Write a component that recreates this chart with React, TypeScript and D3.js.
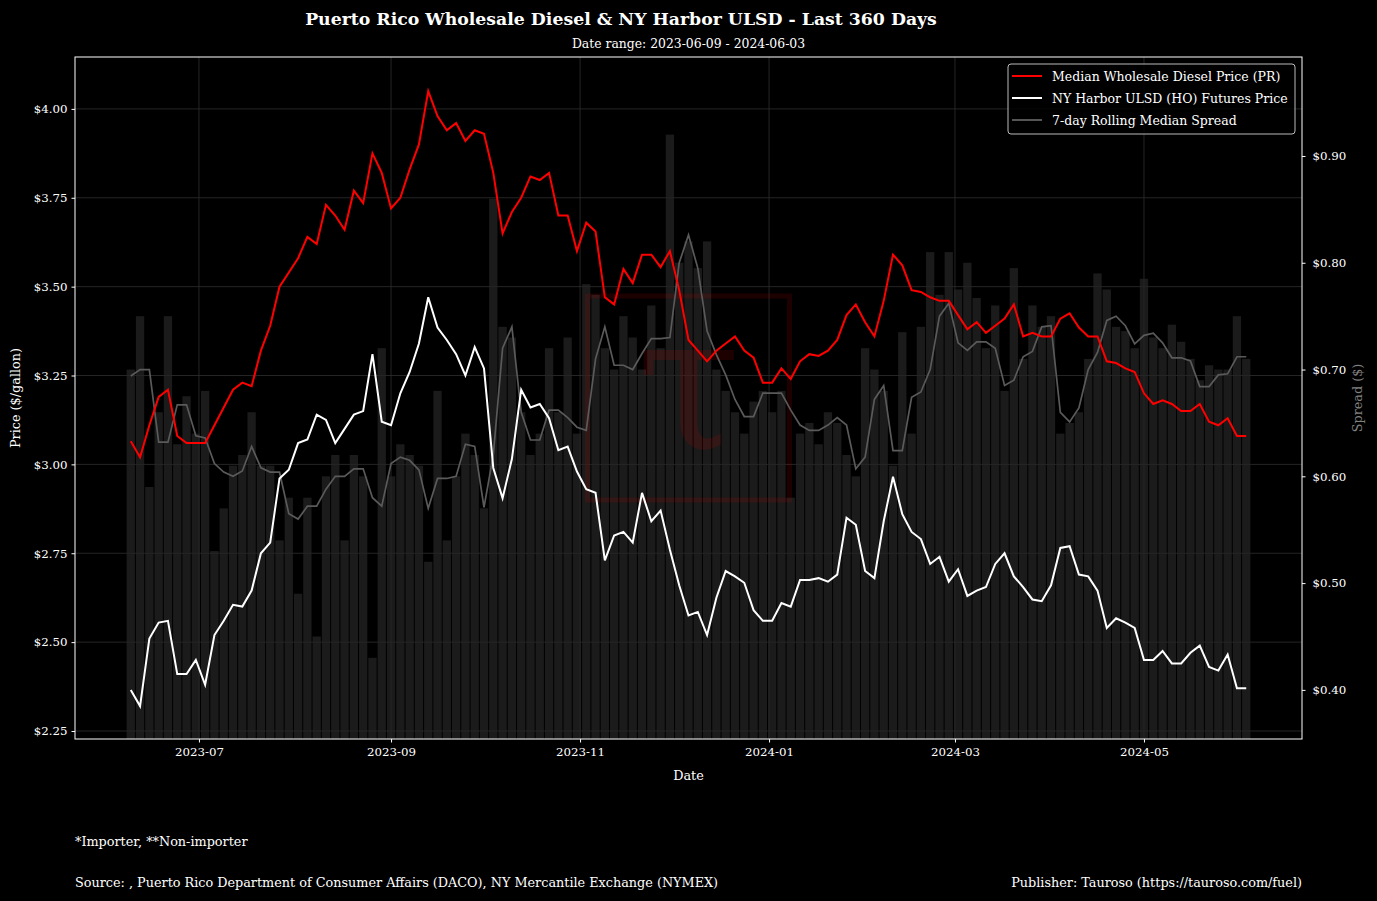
import React, { useEffect, useRef } from 'react';
import * as d3 from 'd3';

// values every 3 days, 2023-06-09 .. 2024-06-03
const startDate = '2023-06-09';
const stepDays = 3;

const prMedian = [
  3.065, 3.02, 3.11, 3.19, 3.21, 3.08, 3.06, 3.06, 3.06, 3.11,
  3.16, 3.21, 3.23, 3.22, 3.32, 3.39, 3.50, 3.54, 3.58, 3.64,
  3.62, 3.73, 3.70, 3.66, 3.77, 3.735, 3.875, 3.82, 3.72, 3.75,
  3.83, 3.90, 4.05, 3.98, 3.94, 3.96, 3.91, 3.94, 3.93, 3.82,
  3.65, 3.71, 3.75, 3.81, 3.80, 3.82, 3.70, 3.70, 3.60, 3.68,
  3.655, 3.47, 3.45, 3.55, 3.51, 3.59, 3.59, 3.555, 3.60, 3.49,
  3.35, 3.32, 3.29, 3.32, 3.34, 3.36, 3.32, 3.30, 3.23, 3.23,
  3.27, 3.24, 3.29, 3.31, 3.305, 3.32, 3.35, 3.42, 3.45, 3.40,
  3.36, 3.46, 3.59, 3.56, 3.49, 3.485, 3.47, 3.46, 3.46, 3.42,
  3.38, 3.40, 3.37, 3.39, 3.41, 3.45, 3.36, 3.37, 3.36, 3.36,
  3.41, 3.425, 3.385, 3.36, 3.36, 3.29, 3.285, 3.27, 3.26, 3.20,
  3.17, 3.18, 3.17, 3.15, 3.15, 3.17, 3.12, 3.11, 3.13, 3.08,
  3.08,
];

const hoFutures = [
  2.365, 2.32, 2.51, 2.555, 2.56, 2.41, 2.41, 2.45, 2.38, 2.52,
  2.56, 2.605, 2.60, 2.645, 2.75, 2.78, 2.96, 2.985, 3.06, 3.07,
  3.14, 3.125, 3.06, 3.10, 3.14, 3.15, 3.31, 3.12, 3.11, 3.20,
  3.26, 3.34, 3.47, 3.385, 3.35, 3.31, 3.25, 3.33, 3.27, 2.99,
  2.905, 3.015, 3.21, 3.16, 3.17, 3.13, 3.04, 3.05, 2.98, 2.93,
  2.92, 2.73, 2.80, 2.81, 2.78, 2.92, 2.84, 2.87, 2.76, 2.66,
  2.575, 2.585, 2.52, 2.625, 2.70, 2.685, 2.667, 2.59, 2.56, 2.56,
  2.61, 2.60, 2.675, 2.675, 2.68, 2.67, 2.69, 2.85, 2.83, 2.70,
  2.68, 2.84, 2.965, 2.86, 2.81, 2.79, 2.72, 2.74, 2.67, 2.705,
  2.63, 2.645, 2.655, 2.72, 2.75, 2.685, 2.655, 2.62, 2.615, 2.66,
  2.765, 2.77, 2.69, 2.685, 2.645, 2.54, 2.567, 2.555, 2.54, 2.45,
  2.45, 2.475, 2.44, 2.44, 2.47, 2.49, 2.43, 2.42, 2.465, 2.37,
  2.37,
];

const spreadDaily = [
  0.70, 0.75, 0.59, 0.66, 0.75, 0.63, 0.675, 0.64, 0.68, 0.53,
  0.57, 0.61, 0.62, 0.66, 0.61, 0.61, 0.54, 0.58, 0.49, 0.58,
  0.45, 0.60, 0.62, 0.54, 0.62, 0.60, 0.43, 0.72, 0.60, 0.63,
  0.62, 0.61, 0.52, 0.68, 0.54, 0.60, 0.64, 0.62, 0.57, 0.86,
  0.74, 0.73, 0.66, 0.62, 0.64, 0.72, 0.66, 0.73, 0.64, 0.78,
  0.77, 0.72, 0.70, 0.75, 0.73, 0.70, 0.76, 0.72, 0.92, 0.80,
  0.82, 0.795, 0.82, 0.70, 0.68, 0.66, 0.64, 0.67, 0.68, 0.66,
  0.68, 0.58, 0.64, 0.65, 0.63, 0.66, 0.65, 0.62, 0.60, 0.72,
  0.70, 0.68, 0.61, 0.735, 0.64, 0.74, 0.81, 0.77, 0.81, 0.775,
  0.80, 0.767, 0.72, 0.76, 0.68, 0.795, 0.71, 0.76, 0.74, 0.75,
  0.64, 0.65, 0.66, 0.71, 0.79, 0.775, 0.74, 0.736, 0.72, 0.785,
  0.73, 0.72, 0.742, 0.726, 0.71, 0.69, 0.704, 0.70, 0.70, 0.75,
  0.71,
];

const spreadRolling = [
  0.694, 0.70, 0.70, 0.632, 0.632, 0.667, 0.667, 0.638, 0.636, 0.612,
  0.604, 0.60, 0.605, 0.628, 0.608, 0.604, 0.604, 0.565, 0.56, 0.572,
  0.572, 0.588, 0.60, 0.60, 0.607, 0.607, 0.58, 0.572, 0.612, 0.618,
  0.615, 0.606, 0.57, 0.598, 0.598, 0.60, 0.63, 0.628, 0.571, 0.62,
  0.72, 0.74, 0.66, 0.634, 0.634, 0.662, 0.662, 0.655, 0.646, 0.643,
  0.71, 0.74, 0.704, 0.704, 0.70, 0.715, 0.729, 0.729, 0.73, 0.80,
  0.826, 0.795, 0.736, 0.714, 0.695, 0.672, 0.656, 0.656, 0.678, 0.678,
  0.678, 0.662, 0.648, 0.643, 0.643, 0.648, 0.655, 0.648, 0.607, 0.618,
  0.672, 0.685, 0.624, 0.624, 0.674, 0.679, 0.70, 0.75, 0.762, 0.725,
  0.718, 0.726, 0.726, 0.72, 0.685, 0.69, 0.712, 0.717, 0.74, 0.741,
  0.66, 0.651, 0.664, 0.70, 0.716, 0.746, 0.75, 0.741, 0.724, 0.732,
  0.734, 0.725, 0.711, 0.711, 0.708, 0.684, 0.684, 0.695, 0.696, 0.712,
  0.712,
];

const priceTicks = [2.25, 2.5, 2.75, 3.0, 3.25, 3.5, 3.75, 4.0];
const spreadTicks = [0.4, 0.5, 0.6, 0.7, 0.8, 0.9];
const monthTicks = ['2023-07', '2023-09', '2023-11', '2024-01', '2024-03', '2024-05'];

const legendItems = [
  { label: 'Median Wholesale Diesel Price (PR)', color: '#ff0000' },
  { label: 'NY Harbor ULSD (HO) Futures Price', color: '#ffffff' },
  { label: '7-day Rolling Median Spread', color: '#555555' },
];

const FONT = '"DejaVu Serif", "Liberation Serif", serif';

export default function App() {
  const ref = useRef<SVGSVGElement>(null);

  useEffect(() => {
    document.body.style.margin = '0';
    document.body.style.background = '#000';

    const W = 1377;
    const H = 901;
    const m = { left: 75, right: 1302, top: 57, bottom: 739 };
    const parse = d3.timeParse('%Y-%m-%d');
    const t0 = parse(startDate) as Date;
    const dates = prMedian.map((_, i) => d3.timeDay.offset(t0, i * stepDays));

    const x = d3.scaleTime()
      .domain([parse('2023-05-22') as Date, parse('2024-06-21') as Date])
      .range([m.left, m.right]);
    const yPrice = d3.scaleLinear().domain([2.2275, 4.146]).range([m.bottom, m.top]);
    const ySpread = d3.scaleLinear().domain([0.354, 0.9927]).range([m.bottom, m.top]);

    const svg = d3.select(ref.current);
    svg.selectAll('*').remove();
    svg.attr('width', W).attr('height', H).style('font-family', FONT);

    svg.append('rect').attr('width', W).attr('height', H).attr('fill', '#000');

    svg.append('defs').append('clipPath').attr('id', 'plot-clip')
      .append('rect')
      .attr('x', m.left).attr('y', m.top)
      .attr('width', m.right - m.left).attr('height', m.bottom - m.top);

    // grid
    const grid = svg.append('g').attr('stroke', '#2e2e2e').attr('stroke-width', 0.8);
    priceTicks.forEach(t => {
      grid.append('line')
        .attr('x1', m.left).attr('x2', m.right)
        .attr('y1', yPrice(t)).attr('y2', yPrice(t));
    });
    monthTicks.forEach(t => {
      const xx = x(parse(t + '-01') as Date);
      grid.append('line').attr('x1', xx).attr('x2', xx).attr('y1', m.top).attr('y2', m.bottom);
    });

    const plot = svg.append('g').attr('clip-path', 'url(#plot-clip)');

    // daily spread bars
    const barW = x(d3.timeDay.offset(t0, stepDays)) - x(t0) - 1;
    plot.append('g').selectAll('rect')
      .data(spreadDaily)
      .join('rect')
      .attr('x', (_, i) => x(dates[i]) - barW / 2)
      .attr('width', barW)
      .attr('y', d => ySpread(d))
      .attr('height', d => ySpread(0) - ySpread(d))
      .attr('fill', '#262626')
      .attr('opacity', 0.72);

    // watermark
    const cx = (m.left + m.right) / 2;
    const cy = (m.top + m.bottom) / 2;
    const wm = plot.append('g').attr('opacity', 0.14);
    wm.append('rect')
      .attr('x', cx - 101).attr('y', cy - 102)
      .attr('width', 202).attr('height', 204)
      .attr('fill', 'none').attr('stroke', '#cc0000').attr('stroke-width', 5);
    wm.append('text')
      .attr('x', cx).attr('y', cy + 50)
      .attr('text-anchor', 'middle')
      .attr('font-size', 190)
      .attr('fill', '#cc0000')
      .text('τ');

    // rolling median spread
    plot.append('path')
      .datum(spreadRolling)
      .attr('fill', 'none')
      .attr('stroke', '#5a5a5a')
      .attr('stroke-width', 1.7)
      .attr('d', d3.line<number>().x((_, i) => x(dates[i])).y(d => ySpread(d)));

    // HO futures
    plot.append('path')
      .datum(hoFutures)
      .attr('fill', 'none')
      .attr('stroke', '#ffffff')
      .attr('stroke-width', 2)
      .attr('d', d3.line<number>().x((_, i) => x(dates[i])).y(d => yPrice(d)));

    // PR median
    plot.append('path')
      .datum(prMedian)
      .attr('fill', 'none')
      .attr('stroke', '#ff0000')
      .attr('stroke-width', 2)
      .attr('d', d3.line<number>().x((_, i) => x(dates[i])).y(d => yPrice(d)));

    // spines
    svg.append('rect')
      .attr('x', m.left).attr('y', m.top)
      .attr('width', m.right - m.left).attr('height', m.bottom - m.top)
      .attr('fill', 'none').attr('stroke', '#ffffff').attr('stroke-width', 1);

    // axes
    const axisL = svg.append('g').attr('transform', `translate(${m.left},0)`)
      .call(d3.axisLeft(yPrice).tickValues(priceTicks).tickFormat(d => d3.format('$.2f')(d as number)).tickSize(3.5).tickPadding(4));
    const axisR = svg.append('g').attr('transform', `translate(${m.right},0)`)
      .call(d3.axisRight(ySpread).tickValues(spreadTicks).tickFormat(d => d3.format('$.2f')(d as number)).tickSize(3.5).tickPadding(7));
    const axisB = svg.append('g').attr('transform', `translate(0,${m.bottom})`)
      .call(d3.axisBottom(x).tickValues(monthTicks.map(t => parse(t + '-01') as Date)).tickFormat(d => d3.timeFormat('%Y-%m')(d as Date)).tickSize(3.5).tickPadding(5));
    [axisL, axisR, axisB].forEach(a => {
      a.select('.domain').remove();
      a.selectAll('line').attr('stroke', '#ffffff');
      a.selectAll('text').attr('fill', '#ffffff').attr('font-size', 11.8).attr('font-family', FONT);
    });

    // axis titles
    svg.append('text')
      .attr('x', cx).attr('y', 780)
      .attr('text-anchor', 'middle').attr('fill', '#fff').attr('font-size', 12.8)
      .text('Date');
    svg.append('text')
      .attr('transform', `translate(20,${cy}) rotate(-90)`)
      .attr('text-anchor', 'middle').attr('fill', '#fff').attr('font-size', 12.8)
      .text('Price ($/gallon)');
    svg.append('text')
      .attr('transform', `translate(1362,${cy}) rotate(-90)`)
      .attr('text-anchor', 'middle').attr('fill', '#808080').attr('font-size', 12.8)
      .text('Spread ($)');

    // titles
    svg.append('text')
      .attr('x', 621).attr('y', 25)
      .attr('text-anchor', 'middle').attr('fill', '#fff')
      .attr('font-size', 17.3).attr('font-weight', 'bold')
      .text('Puerto Rico Wholesale Diesel & NY Harbor ULSD - Last 360 Days');
    svg.append('text')
      .attr('x', cx).attr('y', 48)
      .attr('text-anchor', 'middle').attr('fill', '#fff').attr('font-size', 12.4)
      .text('Date range: 2023-06-09 - 2024-06-03');

    // legend
    const lg = svg.append('g').attr('transform', 'translate(1008,64)');
    lg.append('rect')
      .attr('width', 287).attr('height', 70).attr('rx', 3)
      .attr('fill', '#000').attr('fill-opacity', 0.8)
      .attr('stroke', '#bbbbbb').attr('stroke-width', 1);
    legendItems.forEach((it, i) => {
      const yy = 12 + i * 22;
      lg.append('line')
        .attr('x1', 4).attr('x2', 34).attr('y1', yy).attr('y2', yy)
        .attr('stroke', it.color).attr('stroke-width', 2);
      lg.append('text')
        .attr('x', 44).attr('y', yy + 4.5)
        .attr('fill', '#fff').attr('font-size', 12.5)
        .text(it.label);
    });

    // footer
    svg.append('text')
      .attr('x', m.left).attr('y', 846)
      .attr('fill', '#fff').attr('font-size', 12.8)
      .text('*Importer, **Non-importer');
    svg.append('text')
      .attr('x', m.left).attr('y', 887)
      .attr('fill', '#fff').attr('font-size', 12.8)
      .text('Source: , Puerto Rico Department of Consumer Affairs (DACO), NY Mercantile Exchange (NYMEX)');
    svg.append('text')
      .attr('x', m.right).attr('y', 887)
      .attr('text-anchor', 'end')
      .attr('fill', '#fff').attr('font-size', 12.8)
      .text('Publisher: Tauroso (https://tauroso.com/fuel)');
  }, []);

  return <svg ref={ref} width={1377} height={901} style={{ display: 'block' }} />;
}
